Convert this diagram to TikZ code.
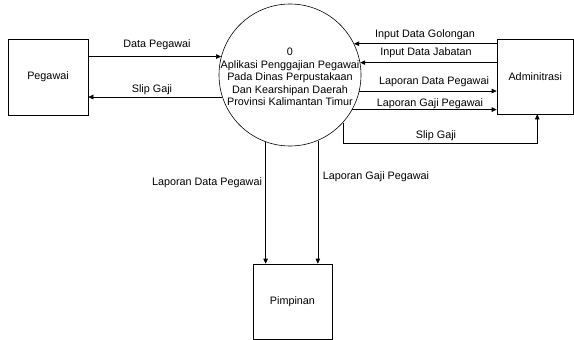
\documentclass[tikz,border=0pt]{standalone}
\usepackage{fontspec}
\setmainfont{Liberation Sans}
\usetikzlibrary{arrows.meta,calc}
\begin{document}
\begin{tikzpicture}[x=1pt,y=-1pt,
  every node/.style={font=\fontsize{10.8}{12.5}\selectfont},
  ent/.style={draw,line width=0.6pt,inner sep=0pt},
  flow/.style={line width=0.6pt,-{Triangle[length=5pt,width=4.5pt]}},
  lbl/.style={inner sep=0pt}]
\useasboundingbox (0,0) rectangle (574,340);
\node[ent,minimum width=80pt,minimum height=76pt] (peg) at (48,77) {Pegawai};
\node[ent,minimum width=76.5pt,minimum height=75pt] (adm) at (535.25,76.5) {Adminitrasi};
\node[ent,minimum width=79pt,minimum height=75pt] (pim) at (292.5,301.5) {Pimpinan};
\node[draw,circle,line width=0.6pt,minimum size=142pt,inner sep=0pt] (p) at (290,75) {};
\node[lbl,align=center] (pt) at (290,77) {0\\Aplikasi Penggajian Pegawai\\Pada Dinas Perpustakaan\\Dan Kearshipan Daerah\\Provinsi Kalimantan Timur};
% flows
\draw[flow] (peg.east |- p.165.3) -- (p.165.3);
\draw[flow] (p.198.9) -- (peg.east |- p.198.9);
\draw[flow] (adm.west |- p.26.8) -- (p.26.8);
\draw[flow] (adm.west |- p.10.5) -- (p.10.5);
\draw[flow] (p.-13.9) -- (adm.west |- p.-13.9);
\draw[flow] (p.-29.5) -- (adm.west |- p.-29.5);
\coordinate (c1) at (440,143);
\draw[flow] (p.-42.9) -- (p.-42.9 |- c1) -| ($(adm.south)+(2,0)$);
\draw[flow] (p.250.2) -- (pim.north -| p.250.2);
\draw[flow] (p.293.2) -- (pim.north -| p.293.2);
% labels
\node[lbl] (l1) at (157,45) {Data Pegawai};
\node[lbl] (l2) at (152,90) {Slip Gaji};
\node[lbl] (l3) at (425,35) {Input Data Golongan};
\node[lbl] (l4) at (426,53) {Input Data Jabatan};
\node[lbl] (l5) at (434,82) {Laporan Data Pegawai};
\node[lbl] (l6) at (430,104) {Laporan Gaji Pegawai};
\node[lbl] (l7) at (436,136) {Slip Gaji};
\node[lbl] (l8) at (207,183) {Laporan Data Pegawai};
\node[lbl] (l9) at (376,177) {Laporan Gaji Pegawai};
\end{tikzpicture}
\end{document}
